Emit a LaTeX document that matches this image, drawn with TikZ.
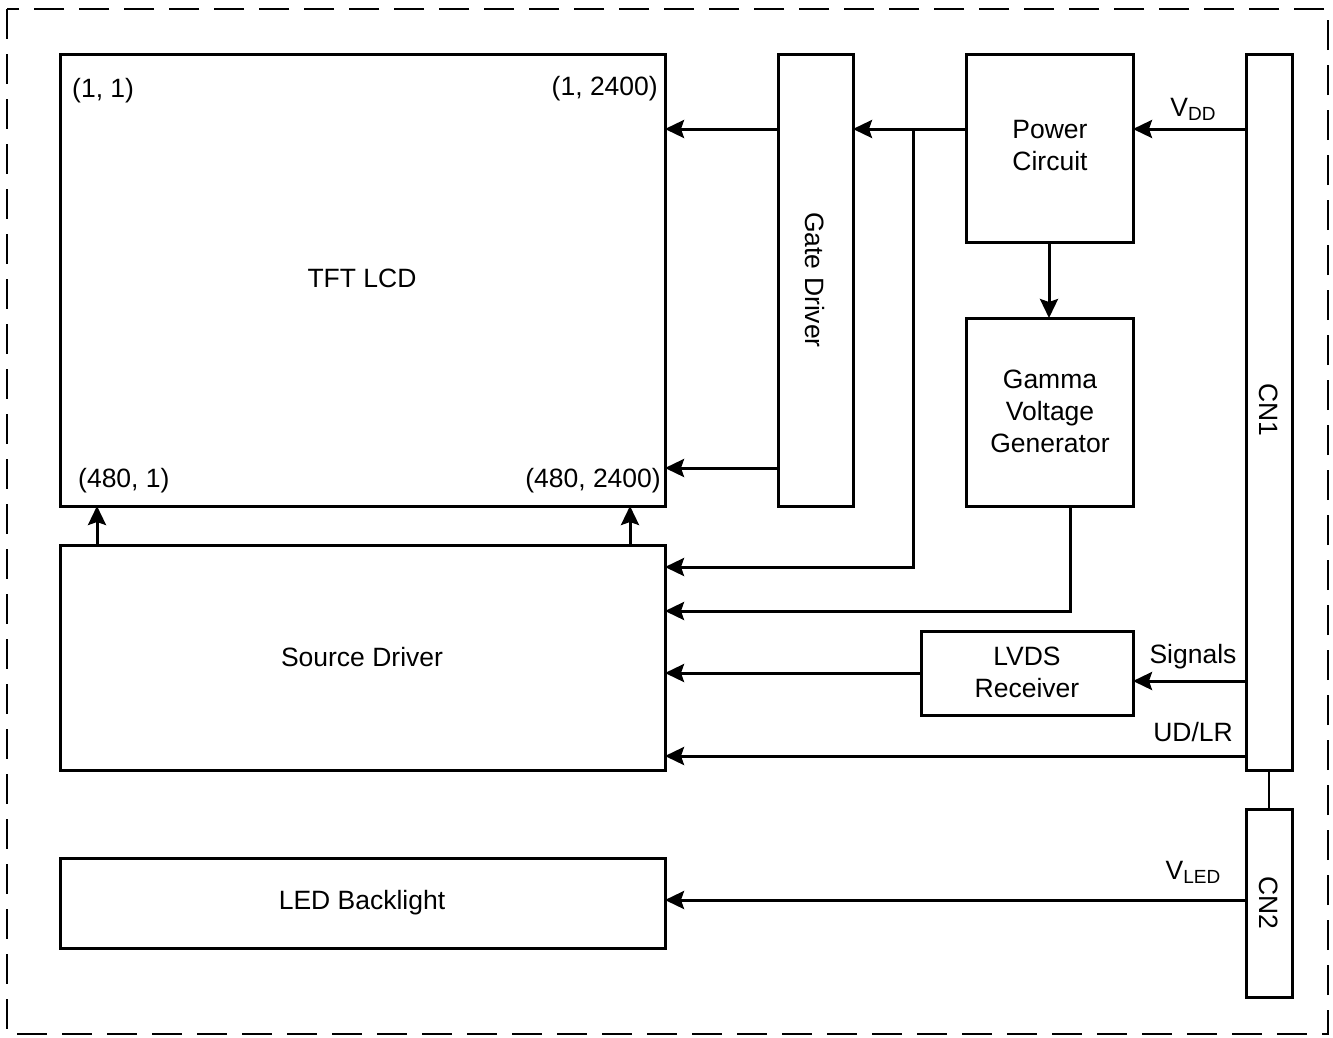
\documentclass[tikz,border=0pt]{standalone}
\usepackage{fontspec}
\setmainfont{Liberation Sans}
\usetikzlibrary{arrows.meta}
\newcommand{\subtxt}[1]{\raisebox{-4pt}{\fontsize{19}{19}\selectfont #1}}
\begin{document}
\begin{tikzpicture}[x=1pt,y=-1pt,
  box/.style={draw, line width=3pt, rectangle, inner sep=0pt, outer sep=0pt},
  txt/.style={font=\fontsize{26.5}{32}\selectfont, align=center, inner sep=0pt},
  conn/.style={line width=3pt, -{Stealth[length=19pt,width=18pt,inset=3pt]}},
  plain/.style={line width=3pt},
  thin/.style={line width=1.6pt}]
\useasboundingbox (0,0) rectangle (1333,1037);
\draw[line width=2pt, dash pattern=on 30pt off 15pt] (7,9) rectangle (1328,1034);
% boxes
\node[box, minimum width=605pt, minimum height=452pt] (tft) at (362.5,280) {};
\node[txt] (tftl) at (362,278) {TFT LCD};
\node[txt, anchor=west] (c11) at (72,91) {(1, 1)};
\node[txt, anchor=east] (c12) at (658,89) {(1, 2400)};
\node[txt, anchor=west] (c41) at (78,481) {(480, 1)};
\node[txt, anchor=east] (c42) at (661,481) {(480, 2400)};
\node[box, minimum width=75pt, minimum height=452pt] (gate) at (815.5,280) {};
\node[txt, rotate=-90] (gatel) at (815,280) {Gate Driver};
\node[box, minimum width=167pt, minimum height=188pt] (power) at (1049.5,148) {};
\node[txt] (powerl) at (1050,146) {Power\\Circuit};
\node[box, minimum width=167pt, minimum height=188pt] (gamma) at (1049.5,412) {};
\node[txt] (gammal) at (1050,411) {Gamma\\Voltage\\Generator};
\node[box, minimum width=46pt, minimum height=716pt] (cn1) at (1269,412) {};
\node[txt, rotate=-90] (cn1l) at (1269,410) {CN1};
\node[box, minimum width=46pt, minimum height=188pt] (cn2) at (1269,903) {};
\node[txt, rotate=-90] (cn2l) at (1269,903) {CN2};
\node[box, minimum width=605pt, minimum height=225pt] (src) at (362.5,657.5) {};
\node[txt] (srcl) at (362,657) {Source Driver};
\node[box, minimum width=212pt, minimum height=84pt] (lvds) at (1027,673) {};
\node[txt] (lvdsl) at (1027,672) {LVDS\\Receiver};
\node[box, minimum width=605pt, minimum height=90pt] (led) at (362.5,903) {};
\node[txt] (ledl) at (362,903) {LED Backlight};
% coordinates
\coordinate (br) at (913,129);
% connectors
\draw[conn] (gate.west |- 0,129) -- (tft.east |- 0,129);
\draw[conn] (gate.west |- 0,468) -- (tft.east |- 0,468);
\draw[conn] (power.west |- 0,129) -- (gate.east |- 0,129);
\draw[conn] (br) -- (913,567) -- (src.east |- 0,567);
\draw[conn] (gamma.south -| 1070,0) -- (1070,611) -- (src.east |- 0,611);
\draw[conn] (lvds.west |- 0,673) -- (src.east |- 0,673);
\draw[conn] (cn1.west |- 0,681) -- (lvds.east |- 0,681);
\draw[conn] (cn1.west |- 0,756) -- (src.east |- 0,756);
\draw[conn] (cn1.west |- 0,129) -- (power.east |- 0,129);
\draw[conn] (power.south -| 1049,0) -- (gamma.north -| 1049,0);
\draw[conn] (src.north -| 97,0) -- (tft.south -| 97,0);
\draw[conn] (src.north -| 630,0) -- (tft.south -| 630,0);
\draw[thin] (cn1.south) -- (cn2.north);
\draw[conn] (cn2.west |- 0,900) -- (led.east |- 0,900);
% connector labels
\node[txt] (vdd) at (1193,109) {V\subtxt{DD}};
\node[txt] (sig) at (1193,657) {Signals};
\node[txt] (udlr) at (1193,732) {UD/LR};
\node[txt] (vled) at (1193,872) {V\subtxt{LED}};
\end{tikzpicture}
\end{document}
